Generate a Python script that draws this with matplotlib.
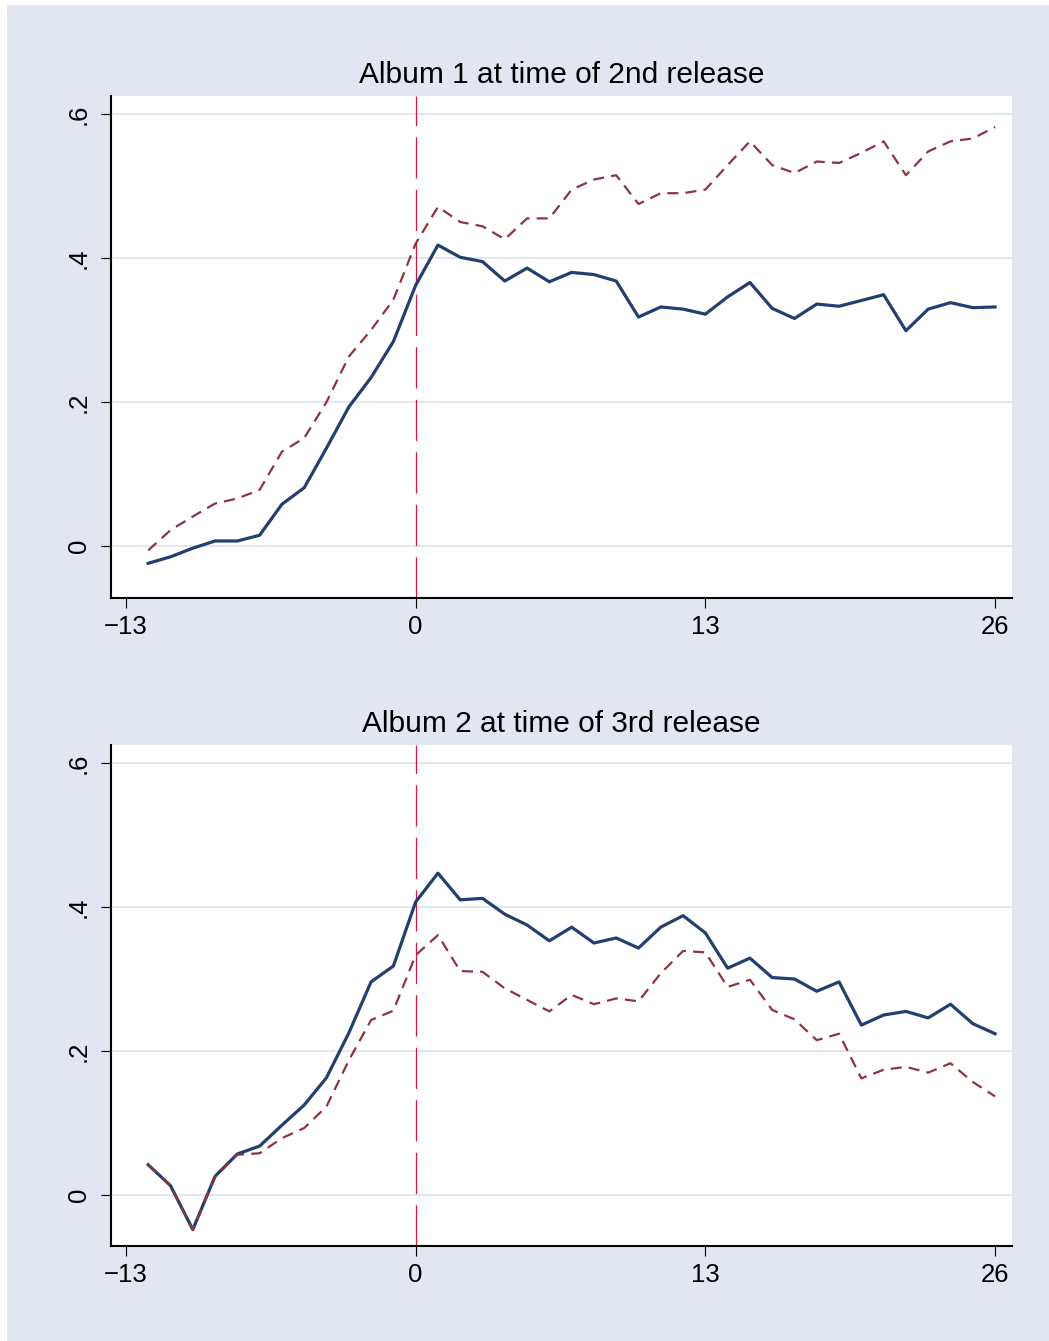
import matplotlib
matplotlib.use("Agg")
import matplotlib.pyplot as plt
from matplotlib.patches import Rectangle

plt.rcParams["font.family"] = ["Liberation Sans", "DejaVu Sans"]

weeks = list(range(-12, 27))

# Album 1 at time of 2nd release
album1_solid = [-0.024, -0.015, -0.003, 0.007, 0.007, 0.015, 0.058, 0.081, 0.136, 0.193,
                0.234, 0.284, 0.362, 0.418, 0.401, 0.395, 0.368, 0.386, 0.367, 0.380,
                0.377, 0.368, 0.318, 0.332, 0.329, 0.322, 0.346, 0.366, 0.330, 0.316,
                0.336, 0.333, 0.341, 0.349, 0.299, 0.329, 0.338, 0.331, 0.332]
album1_dashed = [-0.006, 0.022, 0.041, 0.059, 0.066, 0.078, 0.131, 0.150, 0.200, 0.263,
                 0.300, 0.342, 0.420, 0.471, 0.450, 0.444, 0.426, 0.455, 0.455, 0.495,
                 0.509, 0.515, 0.475, 0.490, 0.490, 0.495, 0.529, 0.562, 0.529, 0.518,
                 0.534, 0.532, 0.546, 0.562, 0.515, 0.548, 0.562, 0.566, 0.582]

# Album 2 at time of 3rd release
album2_solid = [0.042, 0.013, -0.048, 0.026, 0.057, 0.068, 0.097, 0.125, 0.163, 0.225,
                0.296, 0.318, 0.407, 0.447, 0.410, 0.412, 0.390, 0.375, 0.353, 0.372,
                0.350, 0.357, 0.343, 0.372, 0.388, 0.364, 0.315, 0.329, 0.302, 0.300,
                0.283, 0.296, 0.236, 0.250, 0.255, 0.246, 0.265, 0.238, 0.224]
album2_dashed = [0.042, 0.013, -0.048, 0.025, 0.056, 0.058, 0.079, 0.093, 0.123, 0.187,
                 0.243, 0.256, 0.333, 0.361, 0.311, 0.310, 0.287, 0.271, 0.255, 0.278,
                 0.265, 0.273, 0.269, 0.308, 0.339, 0.337, 0.289, 0.299, 0.257, 0.244,
                 0.215, 0.224, 0.162, 0.174, 0.178, 0.170, 0.183, 0.157, 0.137]

titles = ["Album 1 at time of 2nd release", "Album 2 at time of 3rd release"]
x_ticks = [-13, 0, 13, 26]
y_ticks = [0, 0.2, 0.4, 0.6]
y_labels = ["0", ".2", ".4", ".6"]

bg = "#e1e6f0"
navy = "#223f6f"
maroon = "#8e3440"

fig = plt.figure(figsize=(10.49, 13.41), dpi=100)
fig.patch.set_facecolor("white")
fig.patches.append(Rectangle((7 / 1049, 0), 1, 1 - 5 / 1341, transform=fig.transFigure,
                             facecolor=bg, edgecolor="none", zorder=-10))

ax1 = fig.add_axes([111 / 1049, 1 - 598 / 1341, 901 / 1049, 502 / 1341])
ax2 = fig.add_axes([111 / 1049, 1 - 1246 / 1341, 901 / 1049, 501 / 1341])

panels = [(ax1, album1_solid, album1_dashed, titles[0], -0.0722),
          (ax2, album2_solid, album2_dashed, titles[1], -0.0708)]

for ax, solid, dashed, title, ymin in panels:
    ax.set_facecolor("white")
    for yt in y_ticks:
        ax.axhline(yt, color="#dfe4ef", lw=1.3, zorder=1)
    ax.axvline(0, color="#d4173f", lw=0.9, dashes=(33, 9), zorder=2)
    ax.plot(weeks, solid, color=navy, lw=2.3, zorder=3)
    ax.plot(weeks, dashed, color=maroon, lw=1.6, dashes=(5, 3.2), zorder=4)

    ax.set_xlim(-13.67, 26.76)
    ax.set_ylim(ymin, 0.625)
    ax.set_xticks(x_ticks)
    ax.set_yticks(y_ticks)
    ax.set_yticklabels(y_labels, rotation=90, va="center")
    ax.tick_params(axis="both", direction="out", length=7.5, width=0.8,
                   labelsize=18.5, color="black")
    ax.tick_params(axis="y", pad=7)
    ax.tick_params(axis="x", pad=5)

    for s in ["top", "right"]:
        ax.spines[s].set_visible(False)
    for s in ["left", "bottom"]:
        ax.spines[s].set_linewidth(1.5)
        ax.spines[s].set_color("black")

    ax.text(0.5, 1.026, title, transform=ax.transAxes, ha="center", va="baseline",
            fontsize=21.5)

fig.savefig("out.png", dpi=100, facecolor=fig.get_facecolor())
